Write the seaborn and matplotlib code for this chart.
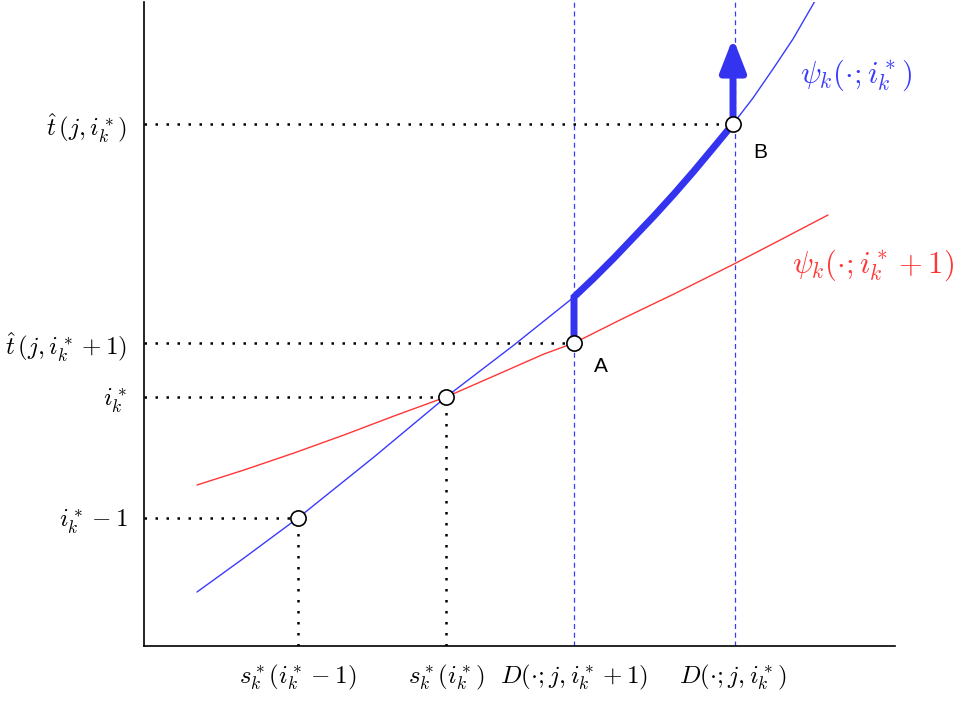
import matplotlib

matplotlib.use("Agg")
import matplotlib.pyplot as plt
import seaborn as sns

sns.set_theme(style="white")
plt.rcParams["mathtext.fontset"] = "cm"
plt.rcParams["font.family"] = ["DejaVu Sans"]

BLUE = "#3a3aff"
RED = "#ff3636"
THICK = "#3434f0"

# curve psi_k(.; i*) and psi_k(.; i*+1)
blue_x = [53, 100, 154, 230, 302, 370, 430, 450, 470, 490, 510, 530, 550, 570, 589,
          609, 629, 649, 671]
blue_y = [54, 88, 128, 189, 249, 301, 349, 368, 388, 409, 430, 452, 475, 499, 522,
          548, 577, 607, 645]
red_x = [53, 100, 150, 200, 250, 302, 350, 400, 430, 480, 530, 590, 640, 684]
red_y = [161, 176, 193, 211, 230, 249, 270, 292, 303, 328, 352, 382, 408, 431]

# marked points (two on blue, A on red, B on blue)
pt_x = [154, 302, 430, 589]
pt_y = [128, 249, 303, 522]

# thick path A -> up -> along blue -> B, then arrow up
path_x = [430, 430, 450, 470, 490, 510, 530, 550, 570, 589]
path_y = [303, 349, 368, 388, 409, 430, 452, 475, 499, 522]
arrow_top = 608

dash_x = [430, 591]

xtick_pos = [154, 302, 430, 589]
xtick_labels = [r"$s_k^*(i_k^*-1)$", r"$s_k^*(i_k^*)$",
                r"$D(\cdot;j,i_k^*+1)$", r"$D(\cdot;j,i_k^*)$"]
ytick_pos = [128, 249, 303, 522]
ytick_labels = [r"$i_k^*-1$", r"$i_k^*$", r"$\hat{t}\,(j,i_k^*+1)$", r"$\hat{t}\,(j,i_k^*)$"]

fig = plt.figure(figsize=(9.63, 7.01), dpi=100)
ax = fig.add_axes([144 / 963, 55 / 701, 751 / 963, 644 / 701])

# dashed verticals
for x in dash_x:
    ax.axvline(x, color=BLUE, lw=0.9, ls=(0, (4, 3)), zorder=1)

# dotted guides
dot = (0, (1, 3.4))
for x, y in zip(pt_x, pt_y):
    ax.plot([0, x], [y, y], color="black", lw=1.8, ls=dot, zorder=1)
for x, y in zip(pt_x[:2], pt_y[:2]):
    ax.plot([x, x], [0, y], color="black", lw=1.8, ls=dot, zorder=1)

sns.lineplot(x=blue_x, y=blue_y, sort=False, estimator=None, color=BLUE, lw=1.0, ax=ax, zorder=2)
sns.lineplot(x=red_x, y=red_y, sort=False, estimator=None, color=RED, lw=1.0, ax=ax, zorder=2)

ax.plot(path_x, path_y, color=THICK, lw=5, solid_capstyle="butt", solid_joinstyle="miter", zorder=3)
ax.annotate("", xy=(path_x[-1], arrow_top), xytext=(path_x[-1], path_y[-1]),
            arrowprops=dict(arrowstyle="-|>,head_length=0.9,head_width=0.35", lw=5,
                            color=THICK, shrinkA=0, shrinkB=0, mutation_scale=22),
            zorder=3)

ax.scatter(pt_x, pt_y, s=120, facecolor="white", edgecolor="black", linewidth=1.2, zorder=5)

ax.text(457, 280, "A", fontsize=15, family="Liberation Sans", color="black", ha="center", va="center")
ax.text(616, 494, "B", fontsize=15, family="Liberation Sans", color="black", ha="center", va="center")
ax.text(656, 571, r"$\psi_k(\cdot;i_k^*)$", color=BLUE, fontsize=22, ha="left", va="center")
ax.text(648, 381, r"$\psi_k(\cdot;i_k^*+1)$", color=RED, fontsize=22, ha="left", va="center")

ax.set_xlim(0, 751)
ax.set_ylim(0, 644)
ax.set_xticks(xtick_pos, xtick_labels, fontsize=18)
ax.set_yticks(ytick_pos, ytick_labels, fontsize=18)
ax.tick_params(length=0, pad=12, labelcolor="black")
sns.despine(ax=ax)
for s in ("left", "bottom"):
    ax.spines[s].set_color("black")
    ax.spines[s].set_linewidth(1.2)

fig.savefig("out.png", dpi=100)
